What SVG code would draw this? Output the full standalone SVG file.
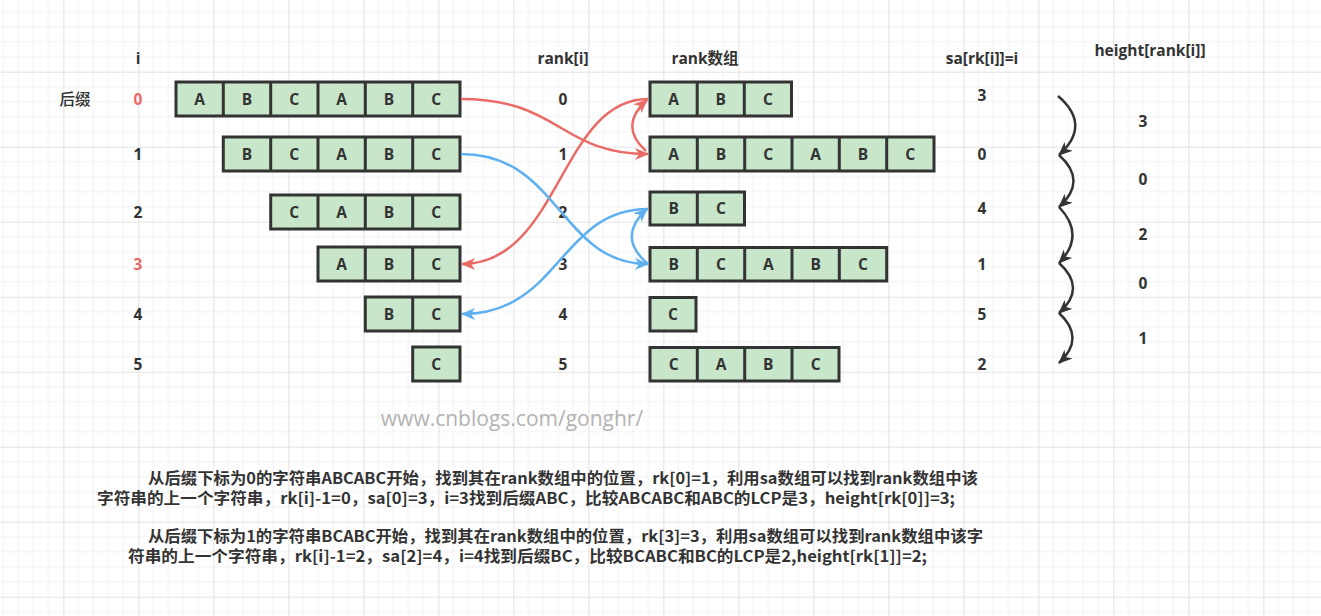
<svg xmlns="http://www.w3.org/2000/svg" width="1321" height="616" viewBox="0 0 1321 616">
<style>
.cell{fill:#c8e6c9;stroke:#333;stroke-width:3}
.div{stroke:#333;stroke-width:3}
.t{font-family:"Open Sans","Noto Sans CJK SC",sans-serif;font-weight:bold;font-size:15.5px;fill:#333;text-anchor:middle}
.cj{font-family:"Noto Sans CJK SC",sans-serif;font-weight:500}
.red{fill:#ea6b66}
.desc{font-family:"Noto Sans CJK SC","Open Sans",sans-serif;font-weight:bold;font-size:15.5px;fill:#333}
.wm{font-family:"Open Sans","Noto Sans",sans-serif;font-size:21px;fill:#b3b3b3;text-anchor:middle}
.cr{fill:none;stroke:#ea6b66;stroke-width:2.5}
.cb{fill:none;stroke:#5eb0f0;stroke-width:2.5}
.ck{fill:none;stroke:#333;stroke-width:2.5}
</style>
<defs>
<pattern id="grid" patternUnits="userSpaceOnUse" x="-11.7" y="-3.3" width="75" height="75">
<path d="M15,0V75M30,0V75M45,0V75M60,0V75M0,15H75M0,30H75M0,45H75M0,60H75" stroke="#f1f1f1" stroke-width="1"/>
<path d="M0.5,0V75M0,0.5H75" stroke="#e3e3e3" stroke-width="1.2"/>
</pattern>
<marker id="ar" markerUnits="userSpaceOnUse" markerWidth="14" markerHeight="12" viewBox="0 0 14 12" refX="13" refY="6" orient="auto"><path d="M0,0L14,6L0,12L4,6z" fill="#ea6b66"/></marker>
<marker id="ab" markerUnits="userSpaceOnUse" markerWidth="14" markerHeight="12" viewBox="0 0 14 12" refX="13" refY="6" orient="auto"><path d="M0,0L14,6L0,12L4,6z" fill="#5eb0f0"/></marker>
<marker id="ak" markerUnits="userSpaceOnUse" markerWidth="14" markerHeight="12" viewBox="0 0 14 12" refX="13" refY="6" orient="auto"><path d="M0,0L14,6L0,12L4,6z" fill="#333"/></marker>
</defs>
<rect width="1321" height="616" fill="#fff"/>
<rect width="1321" height="616" fill="url(#grid)"/>

<g id="headers">
<text class="t" x="138" y="64">i</text>
<text class="t cj" x="75" y="105">后缀</text>
<text class="t" x="563" y="64">rank[i]</text>
<text class="t" x="705" y="64">rank数组</text>
<text class="t" x="982" y="64">sa[rk[i]]=i</text>
<text class="t" x="1150" y="56">height[rank[i]]</text>
</g>

<g id="index-labels">
<text class="t red" x="138" y="105">0</text>
<text class="t" x="138" y="160">1</text>
<text class="t" x="138" y="218">2</text>
<text class="t red" x="138" y="270">3</text>
<text class="t" x="138" y="320">4</text>
<text class="t" x="138" y="370">5</text>
</g>

<g id="rank-values">
<text class="t" x="563" y="105">0</text>
<text class="t" x="563" y="160">1</text>
<text class="t" x="563" y="218">2</text>
<text class="t" x="563" y="270">3</text>
<text class="t" x="563" y="320">4</text>
<text class="t" x="563" y="370">5</text>
</g>

<g id="sa-values">
<text class="t" x="982" y="101">3</text>
<text class="t" x="982" y="160">0</text>
<text class="t" x="982" y="214">4</text>
<text class="t" x="982" y="270">1</text>
<text class="t" x="982" y="320">5</text>
<text class="t" x="982" y="370">2</text>
</g>

<g id="height-values">
<text class="t" x="1143" y="127">3</text>
<text class="t" x="1143" y="185">0</text>
<text class="t" x="1143" y="240">2</text>
<text class="t" x="1143" y="289">0</text>
<text class="t" x="1143" y="344">1</text>
</g>

<g id="suffix-0">
<rect class="cell" x="176" y="82" width="284" height="34"/>
<path class="div" d="M223.3,82V116M270.7,82V116M318,82V116M365.3,82V116M412.7,82V116"/>
<text class="t" x="199.7" y="105">A</text><text class="t" x="247" y="105">B</text><text class="t" x="294.3" y="105">C</text><text class="t" x="341.7" y="105">A</text><text class="t" x="389" y="105">B</text><text class="t" x="436.3" y="105">C</text>
</g>
<g id="suffix-1">
<rect class="cell" x="223.3" y="137" width="236.7" height="34"/>
<path class="div" d="M270.7,137V171M318,137V171M365.3,137V171M412.7,137V171"/>
<text class="t" x="247" y="160">B</text><text class="t" x="294.3" y="160">C</text><text class="t" x="341.7" y="160">A</text><text class="t" x="389" y="160">B</text><text class="t" x="436.3" y="160">C</text>
</g>
<g id="suffix-2">
<rect class="cell" x="270.7" y="195" width="189.3" height="34"/>
<path class="div" d="M318,195V229M365.3,195V229M412.7,195V229"/>
<text class="t" x="294.3" y="218">C</text><text class="t" x="341.7" y="218">A</text><text class="t" x="389" y="218">B</text><text class="t" x="436.3" y="218">C</text>
</g>
<g id="suffix-3">
<rect class="cell" x="318" y="247" width="142" height="34"/>
<path class="div" d="M365.3,247V281M412.7,247V281"/>
<text class="t" x="341.7" y="270">A</text><text class="t" x="389" y="270">B</text><text class="t" x="436.3" y="270">C</text>
</g>
<g id="suffix-4">
<rect class="cell" x="365.3" y="297" width="94.7" height="34"/>
<path class="div" d="M412.7,297V331"/>
<text class="t" x="389" y="320">B</text><text class="t" x="436.3" y="320">C</text>
</g>
<g id="suffix-5">
<rect class="cell" x="412.7" y="347" width="47.3" height="34"/>
<text class="t" x="436.3" y="370">C</text>
</g>

<g id="rank-0">
<rect class="cell" x="650" y="82" width="141.5" height="34"/>
<path class="div" d="M697.2,82V116M744.3,82V116"/>
<text class="t" x="673.6" y="105">A</text><text class="t" x="720.8" y="105">B</text><text class="t" x="768" y="105">C</text>
</g>
<g id="rank-1">
<rect class="cell" x="650" y="137" width="284" height="34"/>
<path class="div" d="M697.3,137V171M744.7,137V171M792,137V171M839.3,137V171M886.7,137V171"/>
<text class="t" x="673.6" y="160">A</text><text class="t" x="721" y="160">B</text><text class="t" x="768.3" y="160">C</text><text class="t" x="815.7" y="160">A</text><text class="t" x="863" y="160">B</text><text class="t" x="910.3" y="160">C</text>
</g>
<g id="rank-2">
<rect class="cell" x="650" y="192" width="94.5" height="33"/>
<path class="div" d="M697.3,192V225"/>
<text class="t" x="673.6" y="214">B</text><text class="t" x="721" y="214">C</text>
</g>
<g id="rank-3">
<rect class="cell" x="650" y="247.5" width="236.7" height="33.5"/>
<path class="div" d="M697.3,247.5V281M744.7,247.5V281M792,247.5V281M839.3,247.5V281"/>
<text class="t" x="673.6" y="270">B</text><text class="t" x="721" y="270">C</text><text class="t" x="768.3" y="270">A</text><text class="t" x="815.7" y="270">B</text><text class="t" x="863" y="270">C</text>
</g>
<g id="rank-4">
<rect class="cell" x="650" y="297.5" width="46" height="33.5"/>
<text class="t" x="673" y="320">C</text>
</g>
<g id="rank-5">
<rect class="cell" x="650" y="347.5" width="189" height="33.5"/>
<path class="div" d="M697.3,347.5V381M744.7,347.5V381M792,347.5V381"/>
<text class="t" x="673.6" y="370">C</text><text class="t" x="721" y="370">A</text><text class="t" x="768.3" y="370">B</text><text class="t" x="815.7" y="370">C</text>
</g>

<g id="connectors">
<path class="cr" d="M461,99C560,99 560,154 648,154" marker-end="url(#ar)"/>
<path class="cr" d="M648,99C560,99 560,264 462,264" marker-end="url(#ar)"/>
<path class="cr" d="M646,151Q618,126 647,100" marker-end="url(#ar)"/>
<path class="cb" d="M461,154C560,154 560,264 648,264" marker-end="url(#ab)"/>
<path class="cb" d="M648,209C560,209 560,314 462,314" marker-end="url(#ab)"/>
<path class="cb" d="M648,264Q616,237 647,209" marker-end="url(#ab)"/>
<path class="ck" d="M1058,96Q1092,125 1059,155" marker-end="url(#ak)"/>
<path class="ck" d="M1059,155Q1088,181 1059,207" marker-end="url(#ak)"/>
<path class="ck" d="M1059,207Q1086,235 1059,263" marker-end="url(#ak)"/>
<path class="ck" d="M1059,263Q1087,288 1059,313" marker-end="url(#ak)"/>
<path class="ck" d="M1059,313Q1086,338 1059,363" marker-end="url(#ak)"/>
</g>

<text class="wm" x="512" y="426">www.cnblogs.com/gonghr/</text>

<g id="description">
<text class="desc" x="148" y="484" textLength="830" lengthAdjust="spacingAndGlyphs">从后缀下标为0的字符串ABCABC开始，找到其在rank数组中的位置，rk[0]=1，利用sa数组可以找到rank数组中该</text>
<text class="desc" x="97" y="504" textLength="858" lengthAdjust="spacingAndGlyphs">字符串的上一个字符串，rk[i]-1=0，sa[0]=3，i=3找到后缀ABC，比较ABCABC和ABC的LCP是3，height[rk[0]]=3;</text>
<text class="desc" x="148" y="542" textLength="835" lengthAdjust="spacingAndGlyphs">从后缀下标为1的字符串BCABC开始，找到其在rank数组中的位置，rk[3]=3，利用sa数组可以找到rank数组中该字</text>
<text class="desc" x="128" y="562" textLength="799" lengthAdjust="spacingAndGlyphs">符串的上一个字符串，rk[i]-1=2，sa[2]=4，i=4找到后缀BC，比较BCABC和BC的LCP是2,height[rk[1]]=2;</text>
</g>
</svg>
